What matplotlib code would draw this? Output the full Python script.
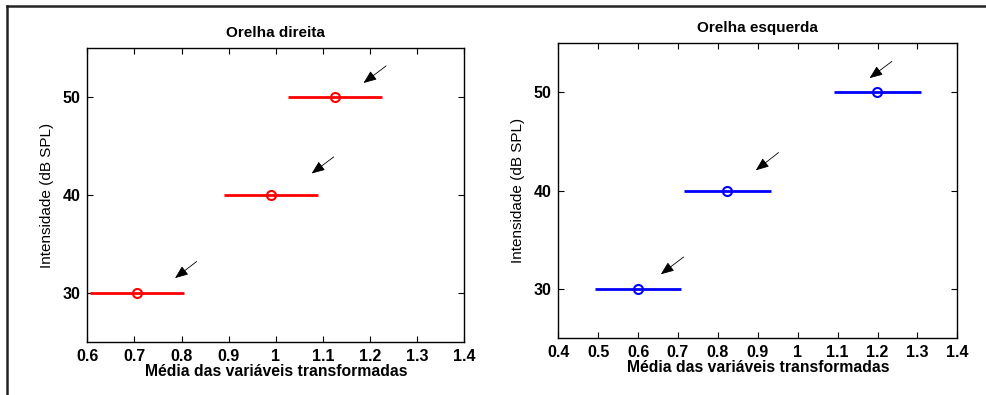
import matplotlib
matplotlib.use("Agg")
import matplotlib.pyplot as plt
from matplotlib.lines import Line2D

plt.rcParams['font.family'] = ['Liberation Sans', 'DejaVu Sans']
plt.rcParams['font.weight'] = 'bold'

# Data
intensities = [30, 40, 50]

right_means = [0.705, 0.99, 1.125]
right_err = [0.10, 0.10, 0.10]
right_arrow_tail_x = [0.832, 1.123, 1.234]
right_arrow_tail_y = [33.2, 43.9, 53.2]
right_arrow_head_x = [0.786, 1.076, 1.186]
right_arrow_head_y = [31.5, 42.2, 51.45]

left_means = [0.60, 0.823, 1.199]
left_err = [0.108, 0.109, 0.109]
left_arrow_tail_x = [0.714, 0.952, 1.236]
left_arrow_tail_y = [33.25, 43.85, 53.1]
left_arrow_head_x = [0.657, 0.895, 1.180]
left_arrow_head_y = [31.5, 42.05, 51.4]

xticks_right = [0.6, 0.7, 0.8, 0.9, 1.0, 1.1, 1.2, 1.3, 1.4]
xticklabels_right = ['0.6', '0.7', '0.8', '0.9', '1', '1.1', '1.2', '1.3', '1.4']
xticks_left = [0.4, 0.5, 0.6, 0.7, 0.8, 0.9, 1.0, 1.1, 1.2, 1.3, 1.4]
xticklabels_left = ['0.4', '0.5', '0.6', '0.7', '0.8', '0.9', '1', '1.1', '1.2', '1.3', '1.4']
yticks = [30, 40, 50]

fig = plt.figure(figsize=(9.86, 3.95), dpi=100)

ax1 = fig.add_axes([0.0886, 0.135, 0.4709 - 0.0886, 0.8777 - 0.135])
ax2 = fig.add_axes([0.5662, 0.1435, 0.9709 - 0.5662, 0.8919 - 0.1435])


def draw(ax, means, err, color, tx, ty, hx, hy, xticks, xlabels, xlim, title):
    ax.errorbar(means, intensities, xerr=err, fmt='o', color=color,
                mfc='none', mec=color, ms=6.5, mew=1.5, elinewidth=2,
                capsize=0, clip_on=True)
    for a, b, c, d in zip(tx, ty, hx, hy):
        ax.annotate('', xy=(c, d), xytext=(a, b),
                    arrowprops=dict(arrowstyle='-|>,head_length=0.8,head_width=0.32',
                                    color='black', lw=0.6, shrinkA=0, shrinkB=0))
    ax.set_xlim(*xlim)
    ax.set_ylim(25, 55)
    ax.set_xticks(xticks)
    ax.set_xticklabels(xlabels)
    ax.set_yticks(yticks)
    ax.tick_params(direction='in', top=True, right=True, length=4, width=0.8,
                   labelsize=11.5, pad=5)
    for lbl in ax.get_xticklabels() + ax.get_yticklabels():
        lbl.set_fontweight('bold')
    for s in ax.spines.values():
        s.set_linewidth(1.0)
    ax.set_title(title, fontsize=11, fontweight='bold', pad=8)
    ax.set_xlabel('Média das variáveis transformadas', fontsize=11.3,
                  fontweight='bold', labelpad=0)
    ax.set_ylabel('Intensidade (dB SPL)', fontsize=11, fontweight='normal',
                  labelpad=6)


draw(ax1, right_means, right_err, '#ff0000', right_arrow_tail_x, right_arrow_tail_y,
     right_arrow_head_x, right_arrow_head_y, xticks_right, xticklabels_right,
     (0.6, 1.4), 'Orelha direita')
draw(ax2, left_means, left_err, '#0000ff', left_arrow_tail_x, left_arrow_tail_y,
     left_arrow_head_x, left_arrow_head_y, xticks_left, xticklabels_left,
     (0.4, 1.4), 'Orelha esquerda')

# outer frame (top and left)
fig.add_artist(Line2D([7 / 986, 1.0], [1 - 6 / 395, 1 - 6 / 395],
                      transform=fig.transFigure, color='#222222', lw=1.8))
fig.add_artist(Line2D([7 / 986, 7 / 986], [0, 1 - 6 / 395],
                      transform=fig.transFigure, color='#222222', lw=1.8))

fig.savefig('out.png', dpi=100)
